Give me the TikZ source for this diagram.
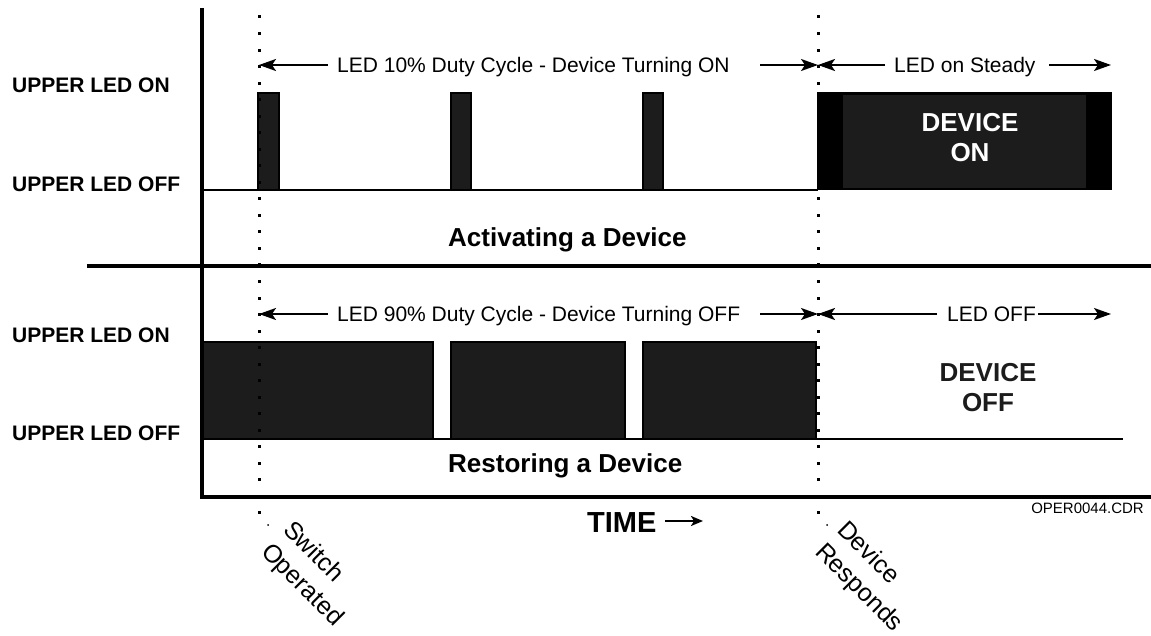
\documentclass[tikz,border=0pt]{standalone}
\usepackage{fontspec}
\setmainfont{Liberation Sans}
\usetikzlibrary{arrows.meta}
\definecolor{blk}{RGB}{28,28,28}
\begin{document}
\begin{tikzpicture}[x=1pt,y=-1pt,
  axis/.style={line width=4pt},
  wave/.style={line width=2pt, draw=black, fill=blk},
  trace/.style={line width=2.5pt},
  dim/.style={line width=2pt, -{Stealth[length=17pt,width=12pt,inset=4pt]}},
  lvl/.style={font=\fontsize{21}{25}\selectfont\bfseries, anchor=base west, inner sep=0},
  ann/.style={font=\fontsize{21}{25}\selectfont, anchor=base west, inner sep=0},
  ttl/.style={font=\fontsize{26}{30}\selectfont\bfseries, anchor=base west, inner sep=0},
  big/.style={font=\fontsize{26}{30}\selectfont\bfseries, anchor=base, inner sep=0},
  rot/.style={font=\fontsize{25}{30}\selectfont, anchor=base west, rotate=-45, inner sep=0},
]
\useasboundingbox (0,0) rectangle (1151,636);

% level labels
\node[lvl] (l1) at (12,93) {UPPER LED ON};
\node[lvl] (l2) at (12,192) {UPPER LED OFF};
\node[lvl] (l3) at (12,342) {UPPER LED ON};
\node[lvl] (l4) at (12,440) {UPPER LED OFF};

% top waveform
\draw[trace] (202,190) -- (818,190);
\filldraw[wave] (258,93) rectangle (279,190);
\filldraw[wave] (451,93) rectangle (471,190);
\filldraw[wave] (643,93) rectangle (663,190);
\fill[black] (817,92) rectangle (1112,190);
\fill[blk] (843,95) rectangle (1086,188);
\node[big, text=white] (don1) at (970,132) {DEVICE};
\node[big, text=white] (don2) at (970,162) {ON};

% bottom waveform
\filldraw[wave] (202,342) rectangle (433,439);
\filldraw[wave] (451,342) rectangle (625,439);
\filldraw[wave] (643,342) rectangle (816,439);
\draw[trace] (433,439) -- (451,439);
\draw[trace] (625,439) -- (643,439);
\draw[trace] (816,439) -- (1123,439);
\node[big, text=blk] (doff1) at (988,381) {DEVICE};
\node[big, text=blk] (doff2) at (988,411) {OFF};

% axes
\draw[axis] (202,8) -- (202,497) -- (1151,497);
\draw[axis] (87,266) -- (1151,266);

% dotted event lines
\foreach \xx in {259,818} {
  \foreach \i in {0,...,30} \fill ({\xx-1.5},{17+\i*16.53-1.5}) rectangle ++(3,3);
}
\fill (268,525) circle (1);
\fill (827,525) circle (1);

% top annotations
\coordinate (sw1) at (259,65);
\coordinate (dr1) at (818,65);
\coordinate (a1) at (328,65);
\coordinate (a2) at (760,65);
\coordinate (a3) at (885,65);
\coordinate (a4) at (1049,65);
\coordinate (e1) at (1111,65);
\node[ann] (t1) at (337,73) {LED 10\% Duty Cycle - Device Turning ON};
\node[ann] (t2) at (894,73) {LED on Steady};
\draw[dim] (a1) -- (sw1);
\draw[dim] (a2) -- (dr1);
\draw[dim] (a3) -- (dr1);
\draw[dim] (a4) -- (e1);

% bottom annotations
\coordinate (sw2) at (259,314);
\coordinate (dr2) at (818,314);
\coordinate (b1) at (328,314);
\coordinate (b2) at (760,314);
\coordinate (b3) at (937,314);
\coordinate (b4) at (1038,314);
\coordinate (e2) at (1111,314);
\node[ann] (t3) at (337,322) {LED 90\% Duty Cycle - Device Turning OFF};
\node[ann] (t4) at (947,322) {LED OFF};
\draw[dim] (b1) -- (sw2);
\draw[dim] (b2) -- (dr2);
\draw[dim] (b3) -- (dr2);
\draw[dim] (b4) -- (e2);

% titles
\node[ttl] (act) at (448,247) {Activating a Device};
\node[ttl] (res) at (448,472) {Restoring a Device};

% time axis label
\node[font=\fontsize{29}{33}\selectfont\bfseries, anchor=base west, inner sep=0] (time) at (587,532) {TIME};
\coordinate (tm) at (703,521);
\draw[line width=2pt, -{Stealth[length=12pt,width=10pt,inset=3pt]}] (665,521) -- (tm);
\node[font=\fontsize{15}{18}\selectfont, anchor=base east, inner sep=0] (ref) at (1144,513) {OPER0044.CDR};

% event labels
\node[rot] (swl1) at (282,531) {Switch};
\node[rot] (swl2) at (260,553) {Operated};
\node[rot] (drl1) at (836,531) {Device};
\node[rot] (drl2) at (814,553) {Responds};
\end{tikzpicture}
\end{document}
